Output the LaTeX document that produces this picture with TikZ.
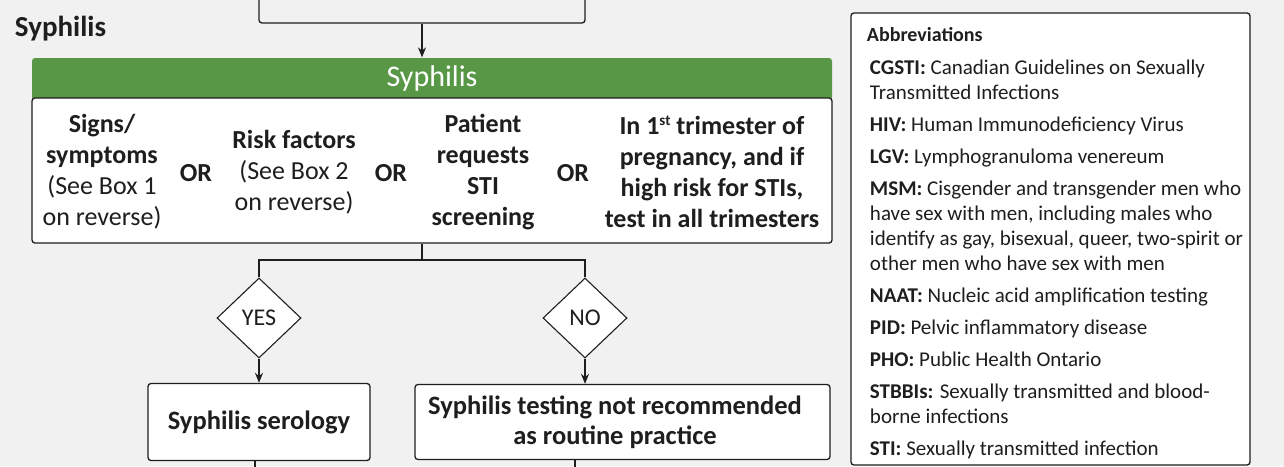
\documentclass[tikz,border=0pt]{standalone}
\usepackage{fontspec}
\setmainfont{Carlito}
\usetikzlibrary{shapes.geometric,arrows.meta}
\definecolor{bg}{RGB}{241,241,241}
\definecolor{hdrgreen}{RGB}{88,151,70}
\definecolor{ink}{RGB}{30,30,30}
\begin{document}
\begin{tikzpicture}[x=1pt,y=-1pt,line width=1.3pt,
  box/.style={draw=ink,fill=white,rounded corners=3pt,inner sep=0pt},
  arr/.style={-{Stealth[length=10pt,width=8pt]},line width=1.1pt,draw=ink},
  conn/.style={line width=1.1pt,draw=ink},
  dia/.style={diamond,draw=ink,fill=white,minimum width=84pt,minimum height=80pt,inner sep=0pt,line width=1.1pt,font=\fontsize{24}{28}\selectfont,text=ink},
  big/.style={font=\fontsize{26}{31}\selectfont\bfseries,align=center,text=ink},
  res/.style={font=\fontsize{26.5}{30}\selectfont\bfseries,align=center,text=ink},
  abbr/.style={font=\fontsize{21}{25}\selectfont,align=left,text=ink}]
\fill[bg] (0,0) rectangle (1284,466);
\useasboundingbox (0,0) rectangle (1284,466);

% partial top box
\node[box,fill=bg,minimum width=326pt,minimum height=60pt] (top) at (422,-7) {};
\node[font=\fontsize{29}{34}\selectfont\bfseries,anchor=west,text=ink] (title) at (11,29) {Syphilis};

% header and main box
\node[fill=hdrgreen,rounded corners=3pt,minimum width=800pt,minimum height=42pt,inner sep=0pt] (hdr) at (432,79) {};
\node[font=\fontsize{30}{34}\selectfont,text=white] (hdrtxt) at (432,78) {Syphilis};
\node[box,minimum width=800pt,minimum height=145pt] (main) at (432,170.5) {};

\node[big] (c1) at (102,172) {Signs/\\symptoms\\{\mdseries (See Box 1}\\{\mdseries on reverse)}};
\node[big] (or1) at (196,173) {OR};
\node[big] (c2) at (294,172) {Risk factors\\{\mdseries (See Box 2}\\{\mdseries on reverse)}};
\node[big] (or2) at (391,173) {OR};
\node[big] (c3) at (483,172) {Patient\\requests\\STI\\screening};
\node[big] (or3) at (573,173) {OR};
\node[big] (c4) at (712,172) {In 1\raisebox{0.75ex}{\fontsize{15}{15}\selectfont st} trimester of\\pregnancy, and if\\high risk for STIs,\\test in all trimesters};

\draw[arr] (top.south) -- (top.south |- hdr.north);

% decisions
\coordinate (j) at (422,260);
\node[dia] (yes) at (259,318) {YES};
\node[dia] (no) at (585,318) {NO};
\draw[conn] (main.south -| j) -- (j);
\draw[conn] (j) -| (yes.north);
\draw[conn] (j) -| (no.north);

\node[box,minimum width=222pt,minimum height=77pt] (ser) at (259,422) {};
\node[res] (sert) at (259,422) {Syphilis serology};
\node[box,minimum width=415pt,minimum height=75pt] (nrec) at (622.5,422) {};
\node[res] (nrect) at (615,422) {Syphilis testing not recommended\\as routine practice};
\draw[arr] (yes.south) -- (yes.south |- ser.north);
\draw[arr] (no.south) -- (no.south |- nrec.north);
\coordinate (e1) at (255,470);
\coordinate (e2) at (575,470);
\draw[conn] (ser.south -| e1) -- (e1);
\draw[conn] (nrec.south -| e2) -- (e2);

% abbreviations
\node[box,minimum width=399pt,minimum height=452pt] (abox) at (1050.5,239) {};
\node[font=\fontsize{20}{24}\selectfont\bfseries,anchor=west,text=ink] (atitle) at (863,35) {Abbreviations};
\node[abbr,anchor=north west] (alist) at (866,56) {%
\textbf{CGSTI:} Canadian Guidelines on Sexually\\Transmitted Infections\\[7pt]
\textbf{HIV:} Human Immunodeficiency Virus\\[7pt]
\textbf{LGV:} Lymphogranuloma venereum\\[7pt]
\textbf{MSM:} Cisgender and transgender men who\\have sex with men, including males who\\identify as gay, bisexual, queer, two-spirit or\\other men who have sex with men\\[7pt]
\textbf{NAAT:} Nucleic acid amplification testing\\[7pt]
\textbf{PID:} Pelvic inflammatory disease\\[7pt]
\textbf{PHO:} Public Health Ontario\\[7pt]
\textbf{STBBIs:} Sexually transmitted and blood-\\borne infections\\[7pt]
\textbf{STI:} Sexually transmitted infection};
\end{tikzpicture}
\end{document}
